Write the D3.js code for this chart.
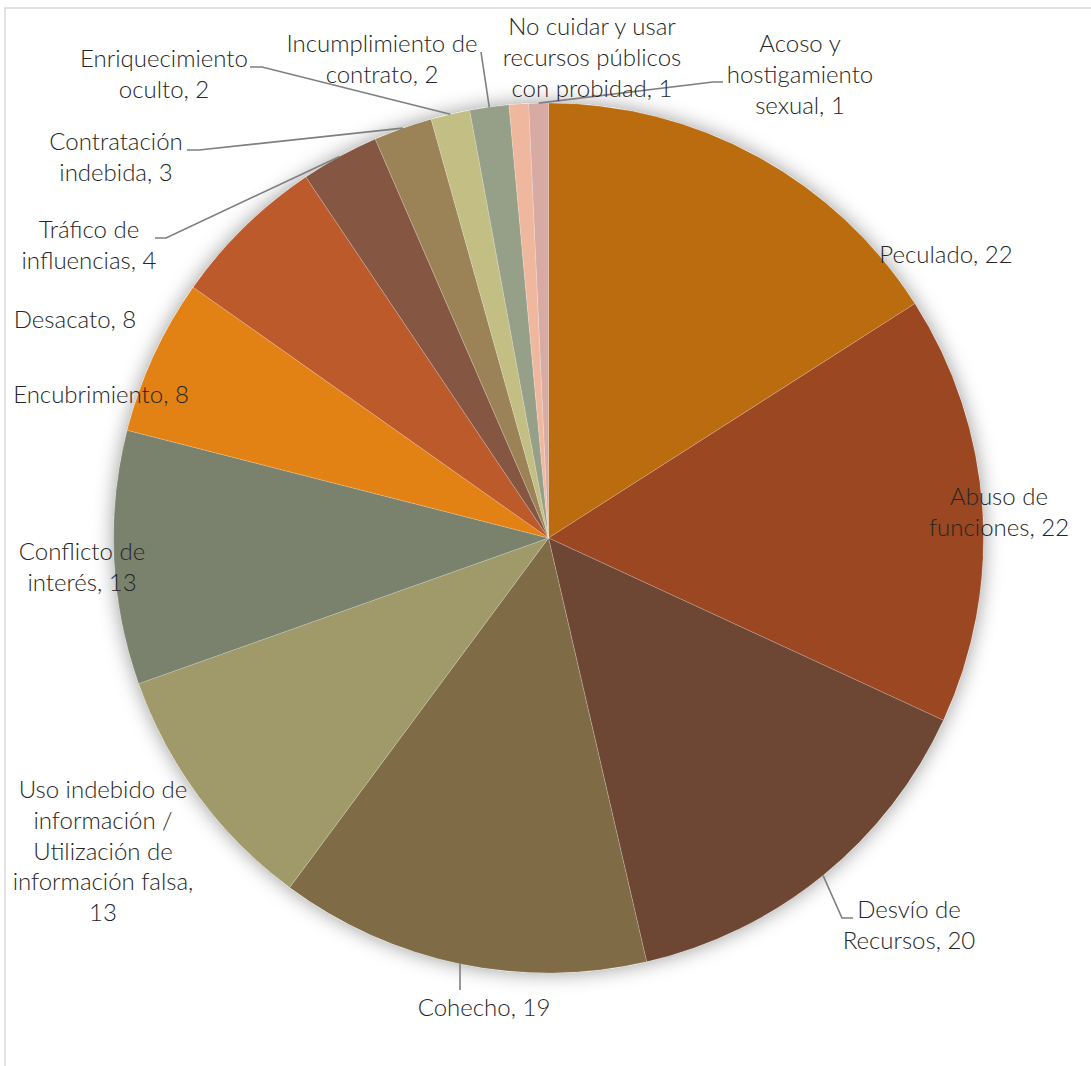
<!DOCTYPE html>
<html>
<head>
<meta charset="utf-8">
<script src="https://cdn.jsdelivr.net/npm/d3@7"></script>
<style>
  html, body { margin: 0; padding: 0; background: #ffffff; }
  svg { display: block; }
  text { font-family: Lato, "Open Sans", sans-serif; font-weight: 300; fill: #262626; }
</style>
</head>
<body>
<svg id="chart" width="1091" height="1066"></svg>
<script>
// ---- data ----
const categories = [
  "Peculado",
  "Abuso de funciones",
  "Desvío de Recursos",
  "Cohecho",
  "Uso indebido de información / Utilización de información falsa",
  "Conflicto de interés",
  "Encubrimiento",
  "Desacato",
  "Tráfico de influencias",
  "Contratación indebida",
  "Enriquecimiento oculto",
  "Incumplimiento de contrato",
  "No cuidar y usar recursos públicos con probidad",
  "Acoso y hostigamiento sexual"
];
const values = [22, 22, 20, 19, 13, 13, 8, 8, 4, 3, 2, 2, 1, 1];
const colors = ["#BB6C0E", "#9B4721", "#6E4634", "#806B47", "#A09A6A", "#7A826E",
                "#E38214", "#BC5A2C", "#855641", "#9C8257", "#C3BE84", "#96A088",
                "#EEB79E", "#D7AAA3"];
// label lines as they are broken in the chart
const labelLines = [
  ["Peculado, 22"],
  ["Abuso de", "funciones, 22"],
  ["Desvío de", "Recursos, 20"],
  ["Cohecho, 19"],
  ["Uso indebido de", "información /", "Utilización de", "información falsa,", "13"],
  ["Conflicto de", "interés, 13"],
  ["Encubrimiento, 8"],
  ["Desacato, 8"],
  ["Tráfico de", "influencias, 4"],
  ["Contratación", "indebida, 3"],
  ["Enriquecimiento", "oculto, 2"],
  ["Incumplimiento de", "contrato, 2"],
  ["No cuidar y usar", "recursos públicos", "con probidad, 1"],
  ["Acoso y", "hostigamiento", "sexual, 1"]
];

// ---- layout (positions, not data) ----
const W = 1091, H = 1066;
const cx = 548.5, cy = 538, R = 435;
const fontSize = 24, lineH = 30.8;
// label anchor: center x, first baseline y (page coords)
const labelLayout = [
  {x: 946, y: 263},
  {x: 999, y: 505},
  {x: 909, y: 918},
  {x: 484, y: 1016},
  {x: 103, y: 798},
  {x: 82,  y: 560},
  {x: 101, y: 403},
  {x: 75,  y: 328},
  {x: 89,  y: 238},
  {x: 116, y: 150},
  {x: 164, y: 67},
  {x: 382, y: 52},
  {x: 592, y: 35},
  {x: 800, y: 52}
];
// leader lines: points from label side toward the slice (slice end added from arc)
const leaders = {
  2:  [[853, 918], [842, 918]],
  3:  [[460, 990]],
  8:  [[155, 238], [166, 238]],
  9:  [[187, 150], [199, 150]],
  10: [[250, 67], [262, 67]],
  11: [[481, 52]],
  13: [[723, 82], [713, 82]]
};

const svg = d3.select("#chart");

// chart border
svg.append("rect")
  .attr("x", 5).attr("y", 8)
  .attr("width", W + 20).attr("height", H + 20)
  .attr("fill", "none")
  .attr("stroke", "#d9d9d9")
  .attr("stroke-width", 1.5);

// shadow filter
const defs = svg.append("defs");
const f = defs.append("filter").attr("id", "shadow")
  .attr("x", "-20%").attr("y", "-20%").attr("width", "140%").attr("height", "140%");
f.append("feGaussianBlur").attr("in", "SourceAlpha").attr("stdDeviation", 10).attr("result", "b");
f.append("feFlood").attr("flood-color", "#000").attr("flood-opacity", 0.4).attr("result", "c");
f.append("feComposite").attr("in", "c").attr("in2", "b").attr("operator", "in").attr("result", "s");
const m = f.append("feMerge");
m.append("feMergeNode").attr("in", "s");
m.append("feMergeNode").attr("in", "SourceGraphic");

const pie = d3.pie().sort(null).value(d => d)(values);
const arc = d3.arc().innerRadius(0).outerRadius(R);

const g = svg.append("g").attr("transform", `translate(${cx},${cy})`);
g.append("circle").attr("r", R).attr("fill", "#fff").attr("filter", "url(#shadow)");
g.selectAll("path.slice")
  .data(pie)
  .join("path")
  .attr("class", "slice")
  .attr("d", arc)
  .attr("fill", (d, i) => colors[i])
  .attr("stroke", "#ffffff")
  .attr("stroke-opacity", 0.3)
  .attr("stroke-width", 0.6);

// leader lines
pie.forEach((d, i) => {
  if (!leaders[i]) return;
  const a = (d.startAngle + d.endAngle) / 2;
  const px = cx + R * Math.sin(a), py = cy - R * Math.cos(a);
  const pts = leaders[i].concat([[px, py]]);
  svg.append("path")
    .attr("d", d3.line()(pts))
    .attr("fill", "none")
    .attr("stroke", "#7f7f7f")
    .attr("stroke-width", 1.6);
});

// labels
labelLines.forEach((lines, i) => {
  const L = labelLayout[i];
  const t = svg.append("text")
    .attr("text-anchor", "middle")
    .style("font-size", fontSize + "px");
  lines.forEach((s, k) => {
    t.append("tspan").attr("x", L.x).attr("y", L.y + k * lineH).text(s);
  });
});
</script>
</body>
</html>
